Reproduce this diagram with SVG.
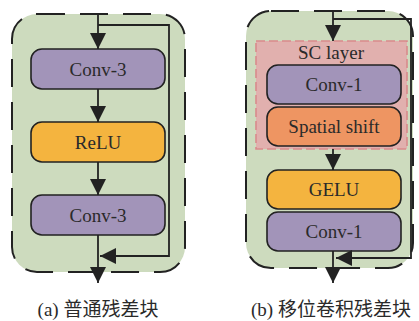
<svg xmlns="http://www.w3.org/2000/svg" width="419" height="321" viewBox="0 0 419 321">
<defs>
<style>
.panel{fill:#CDDBBE;stroke:#222;stroke-width:2;stroke-dasharray:28 15}
.box{stroke:#222;stroke-width:1.6}
.conv{fill:#A294B9}
.relu{fill:#F4B43F}
.shift{fill:#EE9562}
.sc{fill:#E1B0AE;stroke:#D98A8C;stroke-width:1.6;stroke-dasharray:9 4}
.t{font-family:"Liberation Serif","Times New Roman",serif;font-size:19px;fill:#2a2a2a;text-anchor:middle}
.cap{font-family:"Liberation Serif","Noto Sans CJK SC",serif;font-size:19px;fill:#2a2a2a;text-anchor:middle}
.ln{fill:none;stroke:#222;stroke-width:1.8}
</style>
<marker id="ahb" viewBox="0 0 10 10" refX="10" refY="5" markerWidth="16" markerHeight="16" markerUnits="userSpaceOnUse" orient="auto">
<path d="M0,0 L10,5 L0,10 Z" fill="#222"/>
</marker>
</defs>
<g id="panelA">
<rect class="panel" x="12" y="14" width="173" height="258" rx="25"/>
</g>
<g id="panelB">
<rect class="panel" x="246" y="11" width="167" height="257" rx="25"/>
</g>
<g id="scLayer">
<rect class="sc" x="256" y="41" width="151" height="108"/>
<text class="t" x="331" y="59">SC layer</text>
</g>
<g id="a_conv1">
<rect class="box conv" x="31" y="49" width="134" height="40" rx="11"/>
<text class="t" x="98" y="76">Conv-3</text>
</g>
<g id="a_relu">
<rect class="box relu" x="31" y="122" width="134" height="40" rx="11"/>
<text class="t" x="98" y="149">ReLU</text>
</g>
<g id="a_conv2">
<rect class="box conv" x="31" y="195" width="134" height="40" rx="11"/>
<text class="t" x="98" y="222">Conv-3</text>
</g>
<g id="b_conv1">
<rect class="box conv" x="267" y="65" width="134" height="39" rx="11"/>
<text class="t" x="334" y="91">Conv-1</text>
</g>
<g id="b_shift">
<rect class="box shift" x="267" y="107" width="134" height="39" rx="11"/>
<text class="t" x="334" y="133">Spatial shift</text>
</g>
<g id="b_gelu">
<rect class="box relu" x="267" y="170" width="134" height="39" rx="11"/>
<text class="t" x="334" y="196">GELU</text>
</g>
<g id="b_conv2">
<rect class="box conv" x="267" y="212" width="134" height="39" rx="11"/>
<text class="t" x="334" y="238">Conv-1</text>
</g>
<g id="connectors">
<line class="ln" x1="98" y1="14" x2="98" y2="49" marker-end="url(#ahb)"/>
<polyline class="ln" points="98,25 169,25 169,256 100,256" marker-end="url(#ahb)"/>
<line class="ln" x1="98" y1="89" x2="98" y2="122" marker-end="url(#ahb)"/>
<line class="ln" x1="98" y1="162" x2="98" y2="195" marker-end="url(#ahb)"/>
<line class="ln" x1="98" y1="235" x2="98" y2="283" marker-end="url(#ahb)"/>
<line class="ln" x1="333" y1="11" x2="333" y2="41" marker-end="url(#ahb)"/>
<polyline class="ln" points="333,19 411,19 411,258 336,258" marker-end="url(#ahb)"/>
<line class="ln" x1="333" y1="149" x2="333" y2="170" marker-end="url(#ahb)"/>
<line class="ln" x1="333" y1="251" x2="333" y2="283" marker-end="url(#ahb)"/>
</g>
<g id="captions">
<text class="cap" x="98" y="316">(a) 普通残差块</text>
<text class="cap" x="331" y="316">(b) 移位卷积残差块</text>
</g>
</svg>
